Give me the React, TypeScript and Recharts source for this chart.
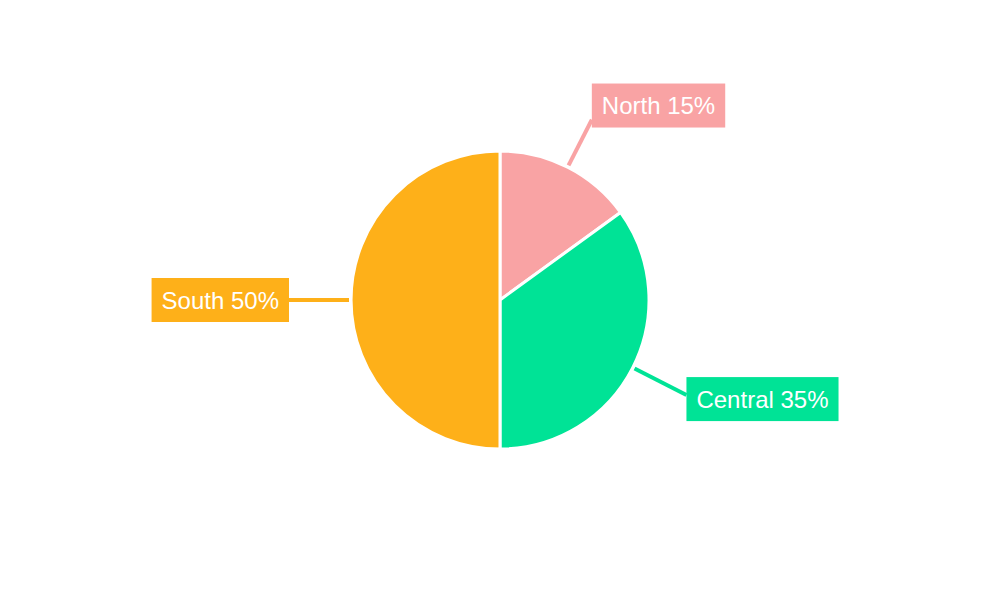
import React from "react";
import { PieChart, Pie, Cell } from "recharts";

const REGIONS: string[] = ["North", "Central", "South"];
const SHARES: number[] = [15, 35, 50];
const COLORS: string[] = ["#F9A3A4", "#00E396", "#FEB019"];

const data = REGIONS.map((name, i) => ({ name, value: SHARES[i] }));

const RAD = Math.PI / 180;
const FONT = "'Liberation Sans', Arial, sans-serif";

let ctx: CanvasRenderingContext2D | null = null;
const measure = (s: string): number => {
  if (!ctx) ctx = document.createElement("canvas").getContext("2d");
  if (!ctx) return s.length * 13;
  ctx.font = `24px ${FONT}`;
  return ctx.measureText(s).width;
};

// etiqueta con caja de color y línea radial
const renderLabel = (props: any) => {
  const { cx, cy, midAngle, outerRadius, name, value, index } = props;
  const color = COLORS[index % COLORS.length];
  const sin = Math.sin(-midAngle * RAD);
  const cos = Math.cos(-midAngle * RAD);
  const len = outerRadius + 46 + 16 * Math.abs(cos);
  const sx = cx + (outerRadius + 2) * cos;
  const sy = cy + (outerRadius + 2) * sin;
  const ex = cx + len * cos;
  const ey = cy + len * sin;
  const text = `${name} ${value}%`;
  const w = measure(text) + 20;
  const h = 44;
  const right = cos >= 0;
  const bx = right ? ex : ex - w;
  const by = ey + (sin < 0 ? 16 : 9) * sin - h / 2;
  return (
    <g>
      <line x1={sx} y1={sy} x2={ex} y2={ey} stroke={color} strokeWidth={4} />
      <rect x={bx} y={by} width={w} height={h} fill={color} />
      <text
        x={bx + w / 2}
        y={by + h / 2}
        fill="#fff"
        fontSize={24}
        fontFamily={FONT}
        textAnchor="middle"
        dominantBaseline="central"
      >
        {text}
      </text>
    </g>
  );
};

const App: React.FC = () => {
  return (
    <div style={{ position: "absolute", left: 0, top: 0, background: "#fff" }}>
      <PieChart width={1000} height={600} margin={{ top: 0, right: 0, bottom: 0, left: 0 }}>
        <Pie
          data={data}
          dataKey="value"
          nameKey="name"
          cx={500}
          cy={300}
          outerRadius={149}
          startAngle={90}
          endAngle={-270}
          stroke="#fff"
          strokeWidth={3}
          label={renderLabel}
          labelLine={false}
          isAnimationActive={false}
        >
          {data.map((_entry, index) => (
            <Cell key={`cell-${index}`} fill={COLORS[index % COLORS.length]} />
          ))}
        </Pie>
      </PieChart>
    </div>
  );
};

export default App;
